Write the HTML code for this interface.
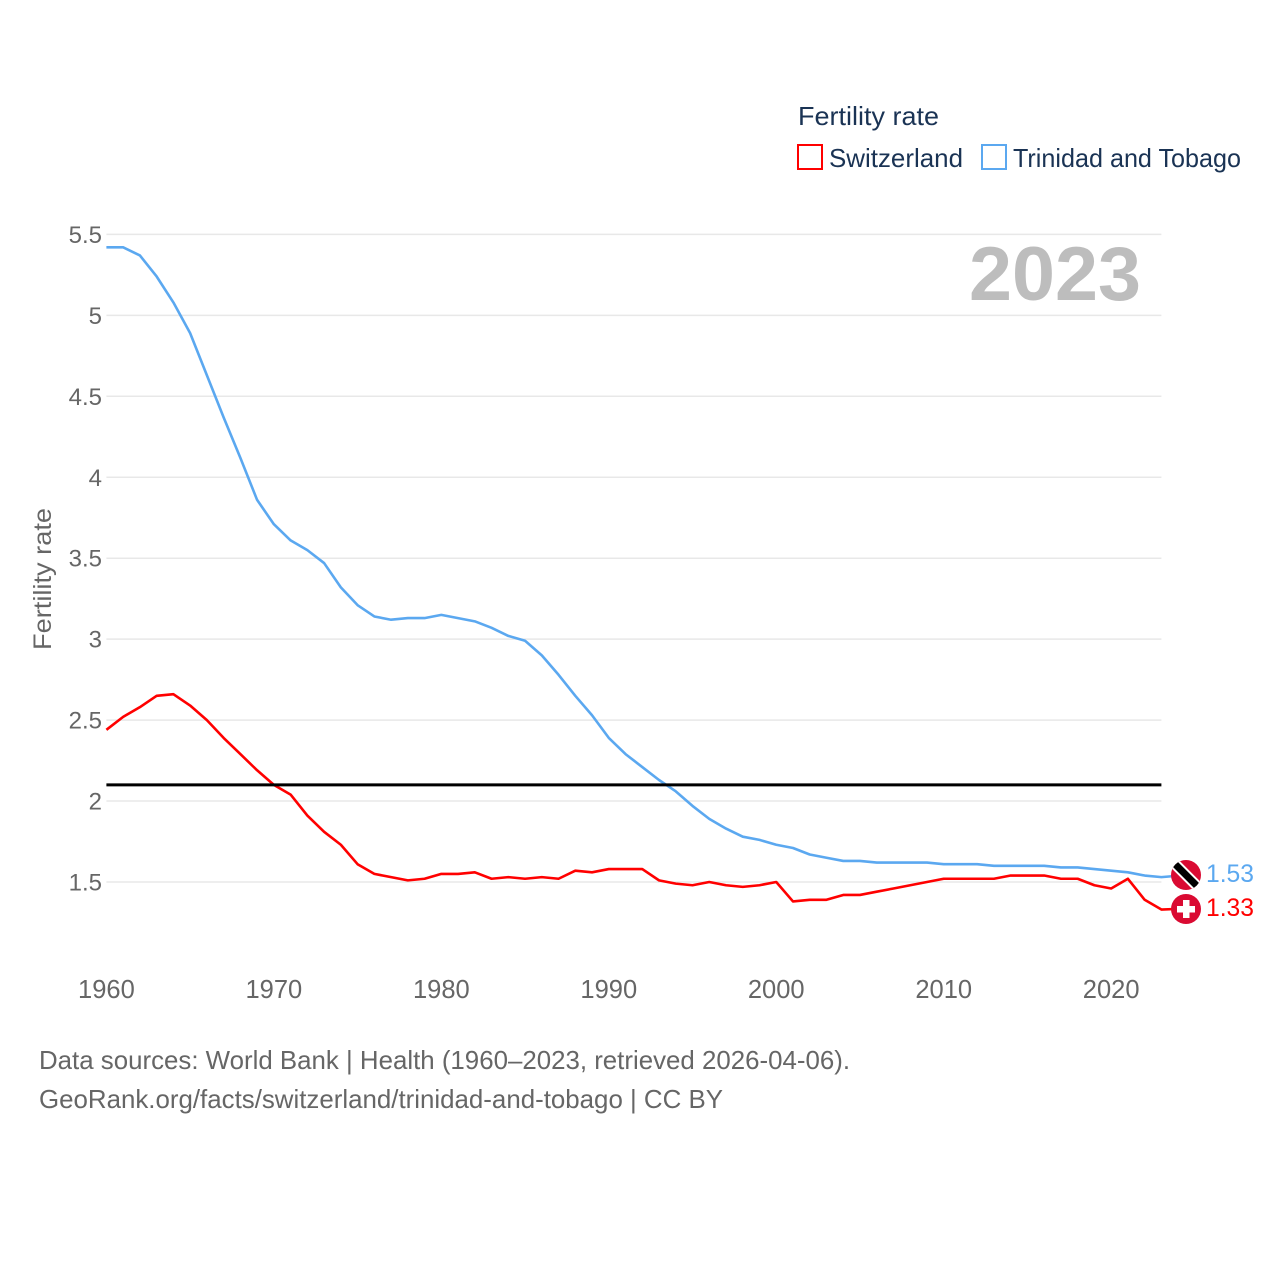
<!DOCTYPE html>
<html lang="en">
<head>
<meta charset="utf-8">
<title>Fertility rate: Switzerland and Trinidad and Tobago</title>
<style>
html,body{margin:0;padding:0;background:#fff;width:1280px;height:1280px;overflow:hidden}
svg{display:block}
text{font-family:"Liberation Sans",sans-serif}
</style>
</head>
<body>
<svg id="chart" xmlns="http://www.w3.org/2000/svg" width="1280" height="1280" viewBox="0 0 1280 1280">
  <rect x="0" y="0" width="1280" height="1280" fill="#fff"/>
  <g id="grid"></g>
  <g id="yticks"></g>
  <g id="xticks"></g>
  <text transform="translate(51,650) rotate(-90)" font-size="25" fill="#666" textLength="142" lengthAdjust="spacingAndGlyphs">Fertility rate</text>
  <text x="969" y="300" font-size="76" font-weight="bold" fill="#bdbdbd" textLength="172" lengthAdjust="spacingAndGlyphs">2023</text>
  <g id="series"></g>
  <line id="replacement" stroke="#000" stroke-width="3"/>
  <g>
    <text x="798" y="125" font-size="26" fill="#1a3354" textLength="141" lengthAdjust="spacingAndGlyphs">Fertility rate</text>
    <g>
      <rect x="798" y="145" width="24" height="24" fill="#fff" stroke="#ff0000" stroke-width="2"/>
      <text x="829" y="167" font-size="26" fill="#1a3354" textLength="134" lengthAdjust="spacingAndGlyphs">Switzerland</text>
    </g>
    <g>
      <rect x="982" y="145" width="24" height="24" fill="#fff" stroke="#5ba8f0" stroke-width="2"/>
      <text x="1013" y="167" font-size="26" fill="#1a3354" textLength="228" lengthAdjust="spacingAndGlyphs">Trinidad and Tobago</text>
    </g>
  </g>
  <g id="endmarks">
    <defs>
      <clipPath id="ttclip"><circle cx="1186" cy="875" r="15"/></clipPath>
    </defs>
    <g>
      <circle cx="1186" cy="875" r="15" fill="#da0a32"/>
      <g clip-path="url(#ttclip)">
        <line x1="1170" y1="859" x2="1202" y2="891" stroke="#fff" stroke-width="11"/>
        <line x1="1170" y1="859" x2="1202" y2="891" stroke="#000" stroke-width="7"/>
      </g>
    </g>
    <g>
      <circle cx="1186" cy="909" r="15" fill="#da0a32"/>
      <rect x="1183" y="900" width="6.5" height="18" fill="#fff"/>
      <rect x="1177" y="906" width="18" height="6.5" fill="#fff"/>
    </g>
    <text id="label-tt" x="1206" y="882" font-size="25" fill="#5ba8f0" textLength="48" lengthAdjust="spacingAndGlyphs"></text>
    <text id="label-ch" x="1206" y="916" font-size="25" fill="#ff0000" textLength="48" lengthAdjust="spacingAndGlyphs"></text>
  </g>
  <g>
    <text x="39" y="1069" font-size="26" fill="#666" textLength="811" lengthAdjust="spacingAndGlyphs">Data sources: World Bank | Health (1960–2023, retrieved 2026-04-06).</text>
    <text x="39" y="1108" font-size="26" fill="#666" textLength="684" lengthAdjust="spacingAndGlyphs">GeoRank.org/facts/switzerland/trinidad-and-tobago | CC BY</text>
  </g>
</svg>
<script>
const years = [1960,1961,1962,1963,1964,1965,1966,1967,1968,1969,1970,1971,1972,1973,1974,1975,1976,1977,1978,1979,1980,1981,1982,1983,1984,1985,1986,1987,1988,1989,1990,1991,1992,1993,1994,1995,1996,1997,1998,1999,2000,2001,2002,2003,2004,2005,2006,2007,2008,2009,2010,2011,2012,2013,2014,2015,2016,2017,2018,2019,2020,2021,2022,2023];
const switzerland = [2.44,2.52,2.58,2.65,2.66,2.59,2.50,2.39,2.29,2.19,2.10,2.04,1.91,1.81,1.73,1.61,1.55,1.53,1.51,1.52,1.55,1.55,1.56,1.52,1.53,1.52,1.53,1.52,1.57,1.56,1.58,1.58,1.58,1.51,1.49,1.48,1.50,1.48,1.47,1.48,1.50,1.38,1.39,1.39,1.42,1.42,1.44,1.46,1.48,1.50,1.52,1.52,1.52,1.52,1.54,1.54,1.54,1.52,1.52,1.48,1.46,1.52,1.39,1.33];
const trinidad = [5.42,5.42,5.37,5.24,5.08,4.89,4.63,4.37,4.12,3.86,3.71,3.61,3.55,3.47,3.32,3.21,3.14,3.12,3.13,3.13,3.15,3.13,3.11,3.07,3.02,2.99,2.90,2.78,2.65,2.53,2.39,2.29,2.21,2.13,2.06,1.97,1.89,1.83,1.78,1.76,1.73,1.71,1.67,1.65,1.63,1.63,1.62,1.62,1.62,1.62,1.61,1.61,1.61,1.60,1.60,1.60,1.60,1.59,1.59,1.58,1.57,1.56,1.54,1.53];
const yTickValues = [1.5,2,2.5,3,3.5,4,4.5,5,5.5];
const yTickLabels = ["1.5","2","2.5","3","3.5","4","4.5","5","5.5"];
const xTickValues = [1960,1970,1980,1990,2000,2010,2020];
const xTickLabels = ["1960","1970","1980","1990","2000","2010","2020"];
const replacementRate = [2.1];

const NS = "http://www.w3.org/2000/svg";
function xScale(year){ return 106.4 + (year - 1960) * (1161.4 - 106.4) / 63; }
function yScale(v){ return 882 - (v - 1.5) * 161.9; }
function make(tag, attrs, parent){
  const el = document.createElementNS(NS, tag);
  for (const k in attrs) el.setAttribute(k, attrs[k]);
  parent.appendChild(el);
  return el;
}

const grid = document.getElementById("grid");
const yticks = document.getElementById("yticks");
yTickValues.forEach(function(v, i){
  const line = make("line", {x1:xScale(1960), x2:xScale(2023), y1:yScale(v), y2:yScale(v), stroke:"#e8e8e8", "stroke-width":1.5}, grid);
  
  
  const t = make("text", {x:102, y:yScale(v) + 8.5, "text-anchor":"end", "font-size":24, fill:"#666"}, yticks);
  t.textContent = yTickLabels[i];
  
  
});

const xticks = document.getElementById("xticks");
xTickValues.forEach(function(v, i){
  const t = make("text", {x:xScale(v), y:998, "text-anchor":"middle", "font-size":25.5, fill:"#666"}, xticks);
  t.textContent = xTickLabels[i];
  
  
});

function linePoints(values){
  return values.map(function(v, i){ return xScale(years[i]).toFixed(2) + "," + yScale(v).toFixed(2); });
}
const seriesGroup = document.getElementById("series");

const lineCH = make("polyline", {points:linePoints(switzerland).join(" ") + " 1175,909", fill:"none", stroke:"#ff0000", "stroke-width":2.6, "stroke-linejoin":"round"}, seriesGroup);



const lineTT = make("polyline", {points:linePoints(trinidad).join(" ") + " 1175,876", fill:"none", stroke:"#5ba8f0", "stroke-width":2.6, "stroke-linejoin":"round"}, seriesGroup);



const rep = document.getElementById("replacement");
rep.setAttribute("x1", xScale(1960));
rep.setAttribute("x2", xScale(2023));
rep.setAttribute("y1", yScale(replacementRate[0]));
rep.setAttribute("y2", yScale(replacementRate[0]));

document.getElementById("label-tt").textContent = trinidad[trinidad.length - 1].toFixed(2);
document.getElementById("label-ch").textContent = switzerland[switzerland.length - 1].toFixed(2);
</script>
</body>
</html>
